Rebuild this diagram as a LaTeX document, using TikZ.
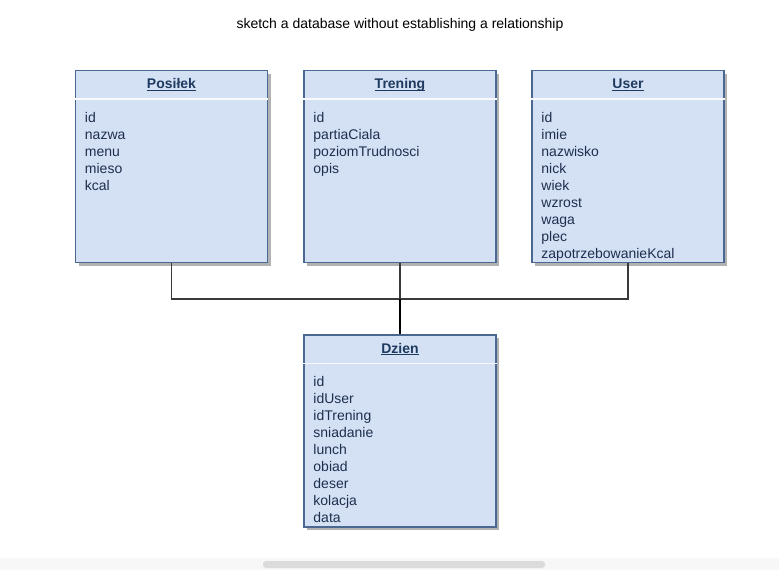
\documentclass[tikz,border=0pt]{standalone}
\usepackage{fontspec}
\setmainfont{Liberation Sans}
\usetikzlibrary{positioning, shadows}
\definecolor{tablefill}{HTML}{D4E1F5}
\definecolor{tableline}{HTML}{4A6891}
\definecolor{fieldtext}{HTML}{1E2F4D}
\definecolor{headtext}{HTML}{1F3A5F}
\definecolor{linkgray}{HTML}{3A3A3A}
\newcommand{\headline}[1]{\underline{\smash{#1}\vphantom{x}}}

\begin{document}
\begin{tikzpicture}[x=1pt, y=-1pt]
        \tikzstyle{every node}=[font=\fontsize{14}{17}\selectfont]
        \tikzstyle{table} = [rectangle, draw=tableline, line width=1.5pt, fill=tablefill, minimum width=192pt, minimum height=192pt, inner sep=0pt, drop shadow={shadow xshift=3pt, shadow yshift=-3pt, opacity=0.3, fill=black}]
        \tikzstyle{head} = [anchor=base, text=headtext, font=\fontsize{14}{17}\selectfont\bfseries]
        \tikzstyle{fields} = [anchor=north west, align=left, inner sep=0pt, text=fieldtext]
        \tikzstyle{sep} = [draw=white!85!tablefill, line width=1.5pt]
        \tikzstyle{link} = [draw=linkgray, line width=1.2pt]

        \useasboundingbox (0,0) rectangle (779,570);

        % title
        \node[text=black, anchor=base](title) at (400,28) {sketch a database without establishing a relationship};

        % tables
        \node[table](posilek) at (171.5,166.5) {};
        \node[table](trening) at (400,166.5) {};
        \node[table](user) at (628,166.5) {};
        \node[table](dzien) at (400,431) {};

        % headers
        \node[head](hposilek) at ([yshift=-19pt]posilek.north) {\headline{Posiłek}};
        \node[head](htrening) at ([yshift=-19pt]trening.north) {\headline{Trening}};
        \node[head](huser) at ([yshift=-19pt]user.north) {\headline{User}};
        \node[head](hdzien) at ([yshift=-19pt]dzien.north) {\headline{Dzien}};

        \draw[sep] ([yshift=-29pt]posilek.north west) -- ([yshift=-29pt]posilek.north east);
        \draw[sep] ([yshift=-29pt]trening.north west) -- ([yshift=-29pt]trening.north east);
        \draw[sep] ([yshift=-29pt]user.north west) -- ([yshift=-29pt]user.north east);
        \draw[sep] ([yshift=-29pt]dzien.north west) -- ([yshift=-29pt]dzien.north east);

        % fields
        \node[fields](fposilek) at ([xshift=10pt,yshift=-42pt]posilek.north west) {id\\nazwa\\menu\\mieso\\kcal};
        \node[fields](ftrening) at ([xshift=10pt,yshift=-42pt]trening.north west) {id\\partiaCiala\\poziomTrudnosci\\opis};
        \node[fields](fuser) at ([xshift=10pt,yshift=-42pt]user.north west) {id\\imie\\nazwisko\\nick\\wiek\\wzrost\\waga\\plec\\zapotrzebowanieKcal};
        \node[fields](fdzien) at ([xshift=10pt,yshift=-42pt]dzien.north west) {id\\idUser\\idTrening\\sniadanie\\lunch\\obiad\\deser\\kolacja\\data};

        % links
        \coordinate (jn) at (400,299);
        \draw[link] (posilek.south) |- (jn) -| (user.south);
        \draw[link] (trening.south) -- (jn);
        \draw[link, draw=black, line width=2pt] (jn) -- (dzien.north);

        % scroll bar
        \fill[black!3] (0,558) rectangle (779,570);
        \fill[black!14, rounded corners=3pt] (263,561) rectangle (545,568);
\end{tikzpicture}
\end{document}
